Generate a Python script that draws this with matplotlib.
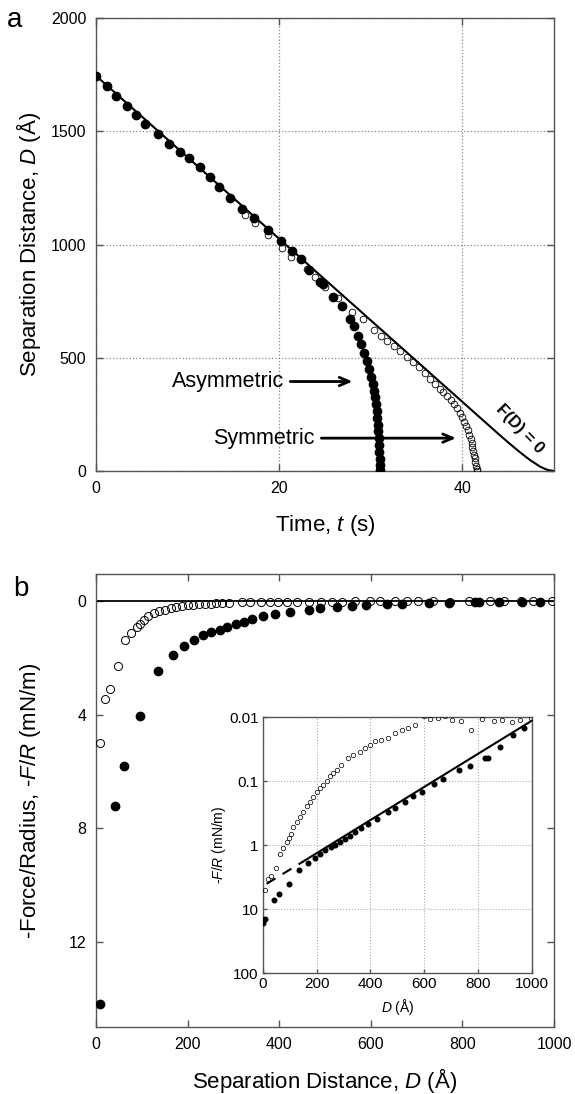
import numpy as np
import matplotlib
matplotlib.use("Agg")
from matplotlib import pyplot as plt

# ---- panel a: separation distance vs time ----
t_asym = [0, 1.2, 2.2, 3.4, 4.4, 5.4, 6.8, 8.0, 9.2, 10.2, 11.4, 12.4, 13.4,
          14.6, 15.9, 17.2, 18.8, 20.2, 21.4, 22.4, 23.3, 24.4, 24.8, 25.9,
          26.8, 27.7, 28.2, 28.6, 28.9, 29.3, 29.6, 29.85, 30.05, 30.2, 30.35,
          30.45, 30.55, 30.63, 30.7, 30.76, 30.81, 30.86, 30.9, 30.93, 30.96,
          30.98, 31.0]
D_asym = [1745, 1701, 1657, 1612, 1573, 1533, 1489, 1444, 1410, 1381, 1341,
          1297, 1253, 1204, 1155, 1116, 1064, 1017, 973, 935, 887, 836, 826,
          770, 728, 670, 640, 596, 560, 520, 485, 450, 415, 385, 355, 325, 295,
          265, 235, 205, 175, 145, 115, 85, 55, 28, 5]

t_sym = [16.3, 17.4, 18.8, 20.25, 21.3, 23.0, 23.9, 25.0, 26.4, 27.9, 29.1,
         30.4, 31.1, 31.8, 32.5, 33.2, 33.9, 34.6, 35.3, 35.9, 36.5, 37.0,
         37.5, 37.9, 38.3, 38.7, 39.1, 39.4, 39.7, 39.95, 40.2, 40.4, 40.6,
         40.75, 40.9, 41.0, 41.1, 41.2, 41.28, 41.35, 41.42, 41.5, 41.55, 41.6]
D_sym = [1130, 1094, 1042, 983, 946, 890, 855, 814, 762, 703, 670, 622, 598,
         575, 552, 528, 503, 482, 458, 432, 404, 382, 364, 350, 333, 313, 295,
         277, 258, 238, 218, 200, 180, 160, 140, 122, 105, 88, 72, 56, 40, 22,
         10, 0]

t_nf = [0, 44, 45, 46, 47, 47.5, 48, 48.4, 48.8, 49.2, 49.5, 50]
D_nf = [1745, 161, 126, 92, 60, 45, 32, 21, 13, 6, 3, 0]

# ---- panel b: force vs separation ----
Db_asym = [0, 9, 42, 60, 97, 135, 167, 193, 213, 233, 252, 270, 286, 306, 324,
           341, 364, 391, 424, 464, 490, 527, 560, 590, 636, 669, 728, 770,
           827, 836, 880, 930, 970]
F_asym = [16.4, 14.2, 7.2, 5.8, 4.05, 2.45, 1.9, 1.59, 1.36, 1.2, 1.08, 1.0,
          0.9, 0.8, 0.72, 0.63, 0.54, 0.47, 0.39, 0.30, 0.26, 0.21, 0.17,
          0.147, 0.113, 0.093, 0.067, 0.058, 0.044, 0.043, 0.029, 0.019, 0.015]

Db_sym = [8, 20, 30, 48, 64, 76, 89, 97, 104, 113, 126, 138, 150, 163, 175,
          188, 200, 212, 225, 237, 250, 262, 274, 290, 318, 336, 361, 380, 398,
          417, 439, 466, 491, 516, 538, 565, 599, 621, 652, 679, 704, 736, 773,
          815, 860, 890, 927, 955, 996]
F_sym = [5.0, 3.43, 3.08, 2.28, 1.36, 1.12, 0.91, 0.79, 0.68, 0.52, 0.43, 0.36,
         0.30, 0.25, 0.21, 0.176, 0.15, 0.13, 0.115, 0.10, 0.085, 0.076, 0.067,
         0.056, 0.044, 0.039, 0.035, 0.030, 0.027, 0.024, 0.0226, 0.0215,
         0.018, 0.016, 0.015, 0.0133, 0.0095, 0.0107, 0.0103, 0.0097, 0.011,
         0.0115, 0.0158, 0.0107, 0.0115, 0.011, 0.012, 0.011, 0.0105]

# exponential fit shown in the inset (dashed part, solid part)
fit_dash_D = [14, 150]
fit_dash_F = [4.05, 1.81]
fit_solid_D = [150, 1000]
fit_solid_F = [1.81, 0.0114]

plt.rcParams["font.family"] = ["Liberation Sans", "DejaVu Sans"]
plt.rcParams["mathtext.fontset"] = "custom"
plt.rcParams["mathtext.rm"] = "Liberation Sans"
plt.rcParams["mathtext.it"] = "Liberation Sans:italic"
plt.rcParams["mathtext.bf"] = "Liberation Sans:bold"

SPINE = "#555555"

fig = plt.figure(figsize=(5.75, 10.94), dpi=100)


def style_axes(ax, size=11.5, pad=7):
    for s in ax.spines.values():
        s.set_color(SPINE)
        s.set_linewidth(1.0)
    ax.tick_params(direction="in", top=True, right=True, labelsize=size,
                   length=5, width=1, color=SPINE, pad=pad)


# ----- panel a -----
axa = fig.add_axes([0.167, 0.5695, 0.7965, 0.414])
axa.plot(t_nf, D_nf, color="black", lw=1.5, zorder=2)
axa.plot(t_sym, D_sym, "o", ms=4.8, mfc="none", mec="black", mew=0.6, zorder=3)
axa.plot(t_asym, D_asym, "o", ms=6, color="black", zorder=4)
axa.set_xlim(0, 50)
axa.set_ylim(0, 2000)
axa.set_xticks([0, 20, 40])
axa.set_yticks([0, 500, 1000, 1500, 2000])
axa.grid(True, ls=":", color="#888888", lw=0.9)
style_axes(axa)
axa.set_xlabel("Time, $t$ (s)", fontsize=16)
axa.set_ylabel("Separation Distance, $D$ (Å)", fontsize=16)
axa.xaxis.set_label_coords(0.5, -0.093)
axa.yaxis.set_label_coords(-0.115, 0.5)

axa.annotate("", xy=(28.3, 395), xytext=(20.9, 395),
             arrowprops=dict(arrowstyle="->,head_length=0.7,head_width=0.3",
                             lw=2, color="black"), zorder=1)
axa.text(20.5, 395, "Asymmetric", ha="right", va="center", fontsize=15.5)
axa.annotate("", xy=(39.6, 145), xytext=(24.3, 145),
             arrowprops=dict(arrowstyle="->,head_length=0.7,head_width=0.3",
                             lw=2, color="black"), zorder=1)
axa.text(23.9, 145, "Symmetric", ha="right", va="center", fontsize=15.5)
axa.text(46.3, 185, "F(D) = 0", rotation=-46, ha="center", va="center",
         fontsize=12, fontweight="bold")
fig.text(0.026, 0.982, "a", fontsize=20, ha="center", va="center")

# ----- panel b -----
axb = fig.add_axes([0.167, 0.0612, 0.7965, 0.414])
axb.axhline(0, color="black", lw=1.3, zorder=2)
axb.plot(Db_sym, F_sym, "o", ms=5.8, mfc="none", mec="black", mew=0.7, zorder=3)
axb.plot(Db_asym, F_asym, "o", ms=6, color="black", zorder=4)
axb.set_xlim(0, 1000)
axb.set_ylim(15, -0.95)
axb.set_xticks([0, 200, 400, 600, 800, 1000])
axb.set_yticks([0, 4, 8, 12])
style_axes(axb)
axb.set_xlabel("Separation Distance, $D$ (Å)", fontsize=16)
axb.set_ylabel("-Force/Radius, -$F$/$R$ (mN/m)", fontsize=16)
axb.xaxis.set_label_coords(0.5, -0.085)
axb.yaxis.set_label_coords(-0.115, 0.5)
fig.text(0.036, 0.462, "b", fontsize=20, ha="center", va="center")

# ----- inset -----
axi = fig.add_axes([0.457, 0.1106, 0.468, 0.234])
axi.plot(fit_dash_D, fit_dash_F, color="black", lw=1.5, ls=(0, (5, 4)), zorder=2)
axi.plot(fit_solid_D, fit_solid_F, color="black", lw=1.5, zorder=2)
axi.plot(Db_sym, F_sym, "o", ms=3.2, mfc="none", mec="black", mew=0.5,
         zorder=3, clip_on=True)
axi.plot(Db_asym, F_asym, "o", ms=3.3, color="black", zorder=4)
axi.set_yscale("log")
axi.set_xlim(0, 1000)
axi.set_ylim(100, 0.01)
axi.set_xticks([0, 200, 400, 600, 800, 1000])
axi.set_yticks([0.01, 0.1, 1, 10, 100])
axi.set_yticklabels(["0.01", "0.1", "1", "10", "100"])
axi.minorticks_off()
axi.grid(True, ls=":", color="#aaaaaa", lw=0.8)
style_axes(axi, size=11, pad=3)
axi.tick_params(top=False, right=False, length=3)
axi.set_xlabel("$D$ (Å)", fontsize=10, labelpad=4)
axi.set_ylabel("-$F$/$R$ (mN/m)", fontsize=10, labelpad=1)

fig.savefig("out.png", dpi=100)
